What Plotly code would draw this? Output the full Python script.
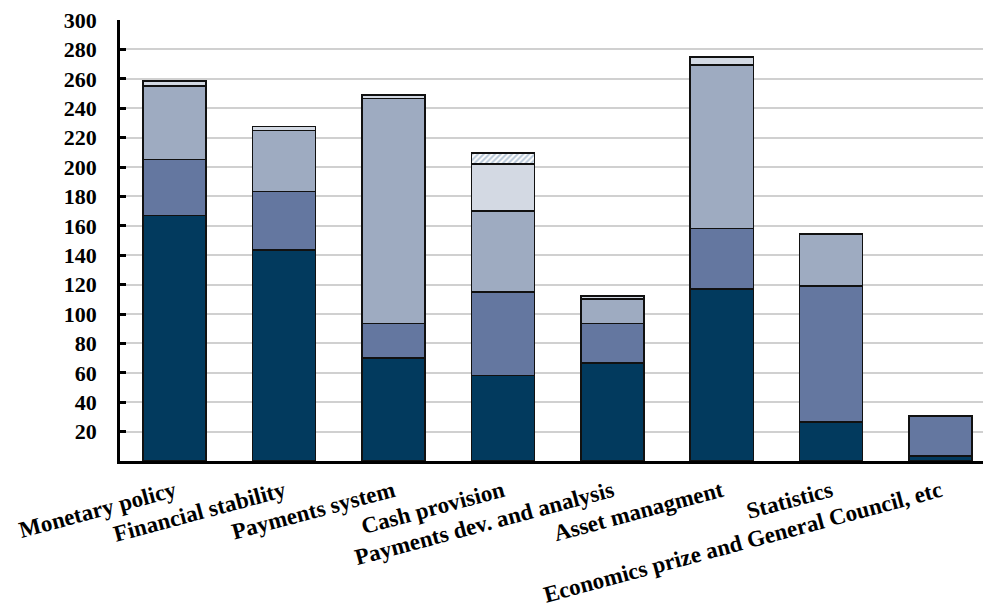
import plotly.graph_objects as go

categories = ["Monetary policy", "Financial stability", "Payments system", "Cash provision",
              "Payments dev. and analysis", "Asset managment", "Statistics",
              "Economics prize and General Council, etc"]
seg_dark = [167, 143.5, 70, 58, 66.7, 117, 26.6, 3.5]
seg_medium = [38, 40, 23.5, 57, 26.7, 41, 92.6, 27]
seg_light = [50, 41.5, 153, 55, 16.8, 111.4, 35.3, None]
seg_verylight = [3.5, 2.5, 2.5, 32, 2.2, 5.6, None, None]
seg_hatched = [None, None, None, 7.5, None, None, None, None]
y_ticks = [20, 40, 60, 80, 100, 120, 140, 160, 180, 200, 220, 240, 260, 280, 300]

FONT = "Liberation Serif"
line = dict(color="#111111", width=1.5)

fig = go.Figure()
fig.add_bar(x=categories, y=seg_dark, marker=dict(color="#023a5e", line=line), showlegend=False)
fig.add_bar(x=categories, y=seg_medium, marker=dict(color="#6477a0", line=line), showlegend=False)
fig.add_bar(x=categories, y=seg_light, marker=dict(color="#9eabc1", line=line), showlegend=False)
fig.add_bar(x=categories, y=seg_verylight, marker=dict(color="#d3d9e3", line=line), showlegend=False)
fig.add_bar(x=categories, y=seg_hatched,
            marker=dict(color="white", line=line,
                        pattern=dict(shape="/", fgcolor="#6f8fb0", bgcolor="white",
                                     size=4, solidity=0.5)),
            showlegend=False)

fig.update_layout(
    barmode="stack",
    bargap=0.424,
    width=983, height=607,
    margin=dict(l=120, r=0, t=20, b=146, pad=0),
    paper_bgcolor="white",
    plot_bgcolor="white",
    font=dict(family=FONT, size=22, color="black"),
    xaxis=dict(
        range=[-0.5, 7.388],
        showline=True, linecolor="black", linewidth=3,
        ticks="", tickangle=-15,
        tickfont=dict(family=FONT, size=23, color="black", weight="bold"),
        ticklabelstandoff=5,
        showgrid=False,
    ),
    yaxis=dict(
        range=[0, 300],
        tickvals=y_ticks,
        showline=True, linecolor="black", linewidth=2.5,
        ticks="inside", ticklen=6, tickwidth=2.5, tickcolor="black",
        tickfont=dict(family=FONT, size=22, color="black", weight="bold"),
        ticklabelstandoff=16,
        showgrid=True, gridcolor="#d0d0d0", gridwidth=1.5,
        zeroline=False,
    ),
)

fig.write_html("out.html")
